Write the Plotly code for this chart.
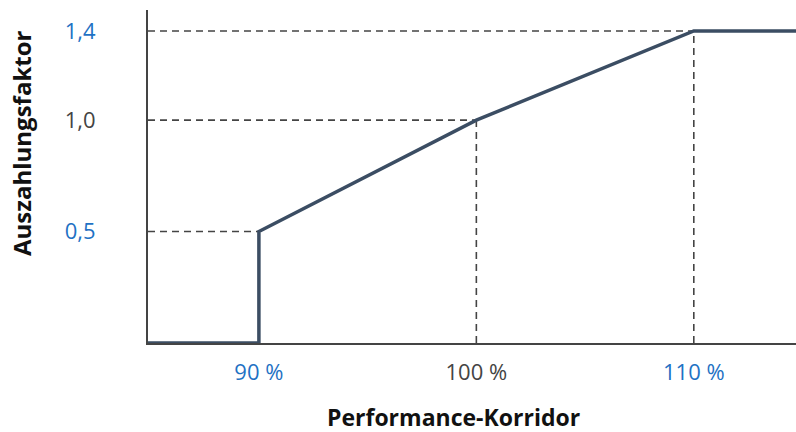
import plotly.graph_objects as go

# Data
performance = [84.9, 90, 90, 100, 110, 114.7]   # % of target
factor = [0.0, 0.0, 0.5, 1.0, 1.4, 1.4]          # payout factor
ref_x = [90, 100, 110]
ref_y = [0.5, 1.0, 1.4]
x_ticks = [90, 100, 110]
x_ticklabels = ["90 %", "100 %", "110 %"]
x_tickcolors = ["#1f72c4", "#444444", "#1f72c4"]
y_ticks = [0.5, 1.0, 1.4]
y_ticklabels = ["0,5", "1,0", "1,4"]
y_tickcolors = ["#1f72c4", "#444444", "#1f72c4"]

x_min, x_max = performance[0], performance[-1]
y_min, y_max = 0.0, 1.494

LINE = "#3b4d63"
DASH = "#444444"
FONT = "Open Sans, Lato, sans-serif"

fig = go.Figure()

# dashed guide lines
for xv, yv in zip(ref_x, ref_y):
    fig.add_trace(go.Scatter(x=[x_min, xv], y=[yv, yv], mode="lines",
                             line=dict(color=DASH, width=1.6, dash="7px,5px"),
                             hoverinfo="skip", showlegend=False))
    if xv != ref_x[0]:
        fig.add_trace(go.Scatter(x=[xv, xv], y=[y_min, yv], mode="lines",
                                 line=dict(color=DASH, width=1.6, dash="7px,5px"),
                                 hoverinfo="skip", showlegend=False))

# main curve
fig.add_trace(go.Scatter(x=performance, y=factor, mode="lines",
                         line=dict(color=LINE, width=3.5),
                         cliponaxis=False, showlegend=False))

W, H = 796, 432
L, R, T = 148, 0, 10
B = H - 343
pw, ph = W - L - R, H - T - B

def px_x(sx):
    return (sx - L) / pw

def px_y(sy):
    return (H - B - sy) / ph

fig.update_layout(
    width=W, height=H,
    margin=dict(l=L, r=R, t=T, b=B, autoexpand=False),
    paper_bgcolor="white", plot_bgcolor="white",
    font=dict(family=FONT, size=22, color="#444444"),
    xaxis=dict(range=[x_min, x_max], showgrid=False, zeroline=False,
               showline=True, linecolor="#444444", linewidth=2,
               tickvals=x_ticks,
               ticktext=[f"<span style='color:{c}'>{t}</span>" for t, c in zip(x_ticklabels, x_tickcolors)],
               ticks="", ticklabelstandoff=9, tickfont=dict(size=22)),
    yaxis=dict(range=[y_min, y_max], showgrid=False, zeroline=False,
               showline=True, linecolor="#444444", linewidth=2,
               tickvals=y_ticks,
               ticktext=[f"<span style='color:{c}'>{t}</span>" for t, c in zip(y_ticklabels, y_tickcolors)],
               ticks="", ticklabelstandoff=46, tickfont=dict(size=22)),
    annotations=[
        dict(text="<b>Performance-Korridor</b>", xref="paper", yref="paper",
             x=px_x(453), y=px_y(417), xanchor="center", yanchor="middle",
             showarrow=False, font=dict(size=23, color="#111111", family=FONT)),
        dict(text="<b>Auszahlungsfaktor</b>", textangle=-90, xref="paper", yref="paper",
             x=px_x(21), y=px_y(143), xanchor="center", yanchor="middle",
             showarrow=False, font=dict(size=24, color="#111111", family=FONT)),
    ],
)

fig.write_html("out.html", config={"displayModeBar": False},
               post_script="document.body.style.margin='0';document.body.style.overflow='hidden';")
